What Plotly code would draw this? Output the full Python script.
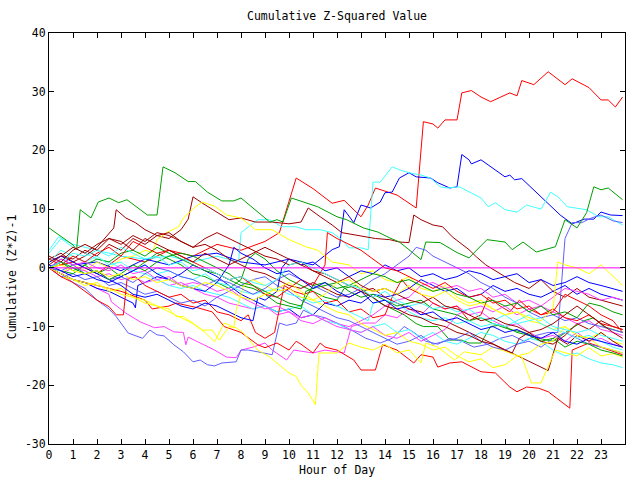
import plotly.graph_objects as go

RED = "#ff0000"; GRN = "#00a000"; BLU = "#0000ff"; MAG = "#ff40ff"
CYN = "#40ffff"; DRD = "#a00000"; YEL = "#ffff00"; SLB = "#6060ff"

title_text = "Cumulative Z-Squared Value"
x_label = "Hour of Day"
y_label = "Cumulative (Z*Z)-1"
x_ticks = list(range(0, 24))
y_ticks = [-30, -20, -10, 0, 10, 20, 30, 40]

# (hour, cumulative value) pairs
red_top = [(0,0),(1,1),(2,-1),(3,2),(4,1),(5,3),(6,2),(7,4),(8,3),(9,4.5),(9.6,6),(10.3,15.3),(11,13.5),(11.8,11),(12.3,11.5),(13,8.7),(13.3,10.7),(13.6,13.6),(14.5,12.4),(15.3,10.2),(15.6,24.9),(16,24.5),(16.2,23.8),(16.5,25.2),(17,25.2),(17.2,29.8),(17.6,30.2),(18,29.1),(18.4,28.3),(19.2,29.8),(19.5,29.3),(19.7,31.9),(20.2,31.2),(20.8,33.4),(21.5,31.2),(21.8,32.2),(22.5,30.7),(23,28.6),(23.3,28.6),(23.6,27.4),(23.9,29.1)]
red_low = [(0,0),(1,-2),(2,-3),(3,-4),(4,-5.5),(4.3,-7),(5,-6.5),(5.3,-6),(6.2,-6.8),(6.8,-7.5),(7.3,-10),(8,-11),(8.7,-13.1),(9,-13.6),(9.5,-12.8),(10,-14),(10.3,-12.5),(10.5,-13),(11,-14.5),(11.3,-12.8),(11.5,-13.5),(12,-14),(12.7,-15.7),(13,-17.4),(13.6,-17.4),(13.9,-13.1),(14.5,-14),(14.9,-15.2),(15.2,-16.2),(15.5,-14.8),(16,-15.2),(16.2,-16.9),(16.7,-16.2),(17.2,-16),(18,-17.7),(18.6,-17.9),(19.2,-20.3),(19.5,-21.1),(19.9,-20.3),(20.4,-20.5),(20.8,-21.1),(21.7,-23.9),(21.8,-14),(22.5,-12.8),(23,-13.5),(23.9,-14.8)]
red_mid1 = [(0,0),(0.5,-1.5),(1,-2.5),(1.5,-4),(2,-5.5),(2.5,-6.6),(2.8,-8),(3.1,-8),(3.25,-2),(3.6,-1.5),(4,-3),(4.5,-4),(5,-5),(5.5,-4.5),(6,-6),(6.5,-5.5),(7,-7.5),(7.5,-8),(8,-9),(8.3,-8),(8.6,-11),(9,-12),(9.4,-11),(9.8,-3),(10.2,-4),(10.6,-4.5),(11,-4),(11.5,-6),(12,-5.5),(12.5,-7.5),(13,-7),(13.5,-8.5),(14,-8),(14.3,-5),(14.7,-2),(15,-3.5),(15.5,-4.5),(16,-6),(16.5,-7),(17,-6.5),(17.5,-9),(18,-8),(18.3,-5),(18.8,-6.5),(19.2,-7.5),(19.6,-5.5),(20,-7),(20.5,-8),(21,-7.5),(21.5,-4.5),(22,-5.5),(22.5,-6.5),(23,-8),(23.5,-9),(23.9,-11)]
red_mid2 = [(0,1.5),(0.5,0.5),(1,2),(1.5,1),(2,2.5),(2.5,3.5),(3,2),(3.5,4.5),(4,3.5),(4.5,2.5),(5,3),(5.5,2),(6,1),(6.5,0),(7,-1),(7.5,-2),(8,-1.5),(8.5,-3),(9,-4.5),(9.5,-5),(10,-3.5),(10.5,-2),(11,-3),(11.5,0.5),(11.6,6),(12,5),(12.5,4),(13,3),(13.5,1.5),(14,0),(14.5,-0.5),(15,-1.5),(15.5,-2.5),(16,-3.5),(16.5,-2.5),(17,-4),(17.5,-5),(18,-4.5),(18.5,-6),(19,-5.5),(19.5,-7),(20,-6.5),(20.5,-8),(21,-7),(21.5,-8.5),(22,-9),(22.5,-8),(23,-9.5),(23.5,-10),(23.9,-10.5)]

green_top = [(0,6.8),(1.0,3.9),(1.15,3.1),(1.3,9.9),(1.75,8.5),(2.05,11.2),(2.5,11.9),(2.9,11.1),(3.25,11.6),(4.1,9),(4.5,9),(4.75,17.2),(5.25,16.2),(5.8,14.7),(6.1,14.7),(6.6,12.9),(7.2,11.4),(7.7,11.4),(8.0,11.9),(8.5,10.2),(9.2,7.8),(9.5,8.2),(9.75,7.8),(10.1,11.9),(10.6,11.2),(11.2,10.4),(12.0,8.7),(12.4,8.2),(13.1,6.8),(13.7,6.1),(14.2,5.1),(14.6,4.4),(15.0,3.1),(15.5,1.4),(15.7,4.4),(16.3,4.3),(17,2.6),(17.5,1.7),(18.25,4.8),(19,4.4),(19.3,3.1),(19.75,4.4),(20.3,2.7),(21.1,3.6),(21.5,8.2),(22,6.8),(22.4,9.4),(22.7,13.8),(23,13.3),(23.3,13.6),(23.9,11.6)]
green_mid1 = [(0,0),(0.5,1),(1,-0.5),(1.5,0.5),(2,-1),(2.5,0),(3,-1.5),(3.5,-0.5),(4,1),(4.5,2.5),(5,1.5),(5.5,0.5),(6,-1),(6.5,-1.5),(7,-2.5),(7.5,-3.5),(8,-2),(8.3,1.5),(8.6,2.5),(9,1.5),(9.5,-0.5),(10,-2),(10.5,-3),(11,-4),(11.5,-5),(12,-5.5),(12.3,-3.5),(12.8,-3),(13.3,-4.5),(13.8,-6),(14.3,-7),(14.8,-8),(15.3,-9.5),(15.6,-10),(16.2,-10),(16.7,-12.3),(17.2,-12.3),(17.5,-12.8),(18,-12.8),(18.4,-10),(18.7,-9.8),(19.2,-10.5),(19.8,-11),(20.4,-12),(21,-12.5),(21.7,-10.5),(22.3,-9),(22.7,-8.5),(23.1,-10),(23.5,-10.5),(23.9,-11)]
green_mid2 = [(0,0),(0.5,-0.5),(1,-1),(1.5,0.5),(2,1.5),(2.5,1),(3,2.5),(3.5,3),(4,2),(4.5,3.5),(5,2.5),(5.5,1.5),(6,0.5),(6.5,-0.5),(7,-1),(7.5,-2),(8,-3),(8.5,-3.5),(9,-4.5),(9.5,-6),(10,-6.5),(10.5,-7),(10.7,-4),(11,-3.5),(11.5,-3),(12,-2.5),(12.5,-4),(13,-5),(13.5,-4.5),(14,-5.5),(14.5,-6.5),(15,-6),(15.5,-5.5),(16,-7),(16.5,-7.5),(17,-8),(17.5,-9),(18,-8.5),(18.5,-9.5),(19,-10),(19.5,-11),(20,-11.5),(20.5,-12.5),(21,-12),(21.5,-13.5),(22,-12.5),(22.5,-13),(23,-14),(23.5,-14.5),(23.9,-15)]
green_mid3 = [(0,0),(0.5,1),(1,0),(1.5,-1),(2,-0.5),(2.5,-2),(3,-1),(3.5,0.5),(4,-0.5),(4.5,1),(5,2),(5.5,2.5),(6,2),(6.5,1),(7,0),(7.5,-1),(8,-2.5),(8.5,-3),(9,-4),(9.5,-5),(10,-6),(10.5,-6.5),(11,-3),(11.5,-2.5),(12,-3.5),(12.5,-3),(13,-2),(13.5,-1),(14,-1.5),(14.5,-2.5),(15,-2),(15.5,-3),(16,-4),(16.5,-3.5),(17,-4.5),(17.5,-5),(18,-6),(18.5,-5.5),(19,-6.5),(19.5,-6),(20,-7.5),(20.5,-6.5),(21,-8),(21.5,-7.5),(22,-8.5),(22.5,-6),(23,-6.5),(23.5,-7.5),(23.9,-8)]

blue_top = [(0,0),(0.5,1.5),(1,0.5),(2,1),(3,-0.5),(4,1.5),(5,0.5),(6,2),(7,2.5),(8,1),(9,0.5),(10,1.5),(11,0.5),(11.8,3.1),(12.1,3.6),(12.3,9.9),(12.7,7.7),(13,10.7),(13.4,10.2),(13.8,11.2),(14,12.8),(14.3,12.9),(14.6,15.3),(15,16.2),(15.3,15.5),(15.9,15.3),(16.2,14.5),(16.7,13.6),(17,13.8),(17.2,19.3),(17.5,18.4),(17.6,17.7),(18,18.4),(18.4,17.2),(19,15.5),(19.2,15.8),(19.4,15),(19.7,15.2),(20.5,12.1),(21.3,9),(21.8,7.5),(22.3,8.3),(22.7,8.3),(23,9.5),(23.4,9),(23.9,8.9)]
blue_mid1 = [(0,0),(0.5,-1),(1,-2),(1.5,-2.5),(2,-3.5),(2.5,-4),(3,-5),(3.5,-6),(3.6,-6.8),(3.7,-3),(4,-2.5),(4.5,-1.5),(5,-2),(5.5,-1),(6,0.5),(6.5,-0.5),(7,-1.5),(7.5,-3),(8,-4.5),(8.5,-5.5),(9,-6.5),(9.5,-7.5),(10,-7),(10.5,-8.5),(11,-8),(11.5,-6),(12,-6.5),(12.5,-5.5),(13,-6),(13.5,-4.5),(14,-5),(14.5,-4.5),(15,-3.5),(15.5,-2),(16,-3),(16.5,-4),(17,-3.5),(17.5,-5),(18,-4.5),(18.5,-3),(19,-4),(19.5,-3.5),(20,-4.5),(20.5,-5),(21,-4),(21.5,-3),(22,-4.5),(22.5,-3.5),(23,-4.5),(23.5,-5),(23.9,-5.5)]
blue_mid2 = [(0,1),(0.5,2),(1,1),(1.5,0),(2,-1),(2.5,-2),(3,-3),(3.5,-4.5),(4,-5),(4.5,-4.5),(5,-5.5),(5.5,-6.5),(6,-7),(6.5,-6),(7,-6.5),(7.5,-7.5),(8,-8.5),(8.5,-9),(8.7,-5),(9,-5.5),(9.5,-4),(9.7,0),(10,1.5),(10.5,0.5),(11,1),(11.5,-0.5),(12,0),(12.5,-1.5),(13,-0.5),(13.5,-1),(14,0.5),(14.5,-0.5),(15,0),(15.5,-1.5),(16,-1),(16.5,-2),(17,-1.5),(17.5,-0.5),(18,-1),(18.5,-2),(19,-1.5),(19.5,-1),(20,-2.5),(20.5,-2),(21,-3),(21.5,-2.5),(22,-1.5),(22.5,-2.5),(23,-3),(23.5,-3.5),(23.9,-4)]
blue_mid3 = [(0,0.5),(0.5,-0.5),(1,-1.5),(1.5,-1),(2,-2),(2.5,-2.5),(3,-1.5),(3.5,-0.5),(4,0.5),(4.5,-1),(5,-2),(5.5,-3),(6,-3.5),(6.5,-4),(7,-2.5),(7.5,0.5),(7.7,3.5),(8,2.5),(8.5,1.5),(9,0),(9.5,-1),(10,-0.5),(10.5,-2),(11,-3.5),(11.5,-2.5),(12,-4),(12.5,-5),(13,-4),(13.5,-6),(14,-5.5),(14.5,-7),(15,-6.5),(15.5,-8),(16,-7.5),(16.5,-9),(17,-8.5),(17.5,-9.5),(18,-10.5),(18.5,-10),(19,-11),(19.5,-10.5),(20,-11.5),(20.5,-12),(21,-11),(21.5,-12.5),(22,-13),(22.5,-12),(23,-12.5),(23.5,-13),(23.9,-13.5)]

magenta_zero = [(0,0),(23.9,0)]
magenta_low = [(0,0),(0.5,-1),(1,-2),(1.5,-2.5),(2,-3.5),(2.5,-4.5),(2.6,-5.8),(3.2,-7.7),(3.8,-9.2),(4.4,-10.2),(4.8,-10),(5.2,-10.9),(5.6,-11),(5.7,-13.1),(5.8,-11.8),(6.3,-12.8),(6.9,-14),(7.4,-15.2),(7.8,-15.3),(8,-14),(8.5,-13.5),(9,-12.8),(9.3,-14),(9.9,-15.7),(10.2,-14),(11,-14.5),(11.5,-14),(12.3,-14.5),(12.6,-10),(13.1,-9.4),(13.6,-9.4),(14,-8),(14.5,-8.5),(15,-7),(15.5,-8),(16,-6),(16.5,-7),(17,-6.5),(17.5,-8),(18,-7.5),(18.5,-9),(19,-10),(19.5,-9.5),(20,-11),(20.5,-12),(21,-11.5),(21.5,-12.5),(22,-11),(22.5,-12.5),(23,-12),(23.5,-13),(23.9,-13.5)]
magenta_mid1 = [(0,0),(0.5,-1),(1,0),(1.5,-0.5),(2,-1.5),(2.5,-1),(3,-2),(3.5,-1.5),(4,-2.5),(4.5,-2),(5,-3),(5.5,-2.5),(6,-3.5),(6.5,-4.5),(7,-5),(7.5,-6),(8,-6.5),(8.5,-7),(9,-6.5),(9.5,-8),(10,-7.5),(10.5,-9),(11,-9.5),(11.5,-8.5),(12,-9.5),(12.5,-10),(13,-9),(13.5,-8),(14,-6.5),(14.5,-5.5),(15,-5),(15.5,-3),(16,-2.5),(16.5,-3.5),(17,-3),(17.5,-4),(18,-3.5),(18.5,-5),(19,-4.5),(19.5,-6),(20,-5.5),(20.5,-6.5),(21,-5),(21.5,-3.5),(22,-4),(22.5,-4.5),(23,-5.5),(23.5,-5),(23.9,-5.5)]
magenta_mid2 = [(0,0),(0.5,1.5),(1,0.5),(1.5,1),(2,0),(2.5,-0.5),(3,0.5),(3.5,-1),(4,-0.5),(4.5,-2),(5,-1.5),(5.5,-3),(6,-2.5),(6.5,-3),(7,-4),(7.5,-3.5),(8,-5),(8.5,-6),(9,-7),(9.5,-6.5),(10,-7.5),(10.5,-8.5),(11,-8),(11.5,-9),(12,-10),(12.5,-10.5),(13,-11),(13.5,-10),(14,-11.5),(14.5,-12),(15,-11),(15.5,-12.5),(16,-11.5),(16.5,-10.5),(17,-8),(17.5,-7),(18,-6.5),(18.5,-7.5),(19,-6.5),(19.5,-8),(20,-7),(20.5,-6.5),(21,-7.5),(21.5,-8.5),(22,-9.5),(22.5,-9),(23,-10.5),(23.5,-11),(23.9,-11.5)]

cyan_top = [(0,3),(0.4,5.3),(1,4),(2,3),(3,2),(4,1.5),(5,2),(6,1),(7,2),(7.9,1),(8.0,6),(8.7,8.2),(9.2,8.2),(9.7,7),(10.3,7),(10.7,6.5),(11.3,6.5),(11.8,6),(12.2,4.8),(12.5,3.4),(13,3.4),(13.3,3.1),(13.5,14.6),(13.8,14.6),(14.3,17.2),(14.6,16.7),(15,16.2),(15.5,15.8),(15.9,15.3),(16.3,13.8),(16.6,13.6),(17.1,13.8),(17.6,12.8),(18,11.9),(18.3,10.4),(18.6,11.1),(19,9.9),(19.5,9.5),(19.9,10.7),(20.5,10),(20.9,12.9),(21.2,12.1),(21.6,10.4),(22.4,9.9),(22.9,8.7),(23.3,8.7),(23.9,7.3)]
cyan_mid1 = [(0,2.5),(0.5,5),(1,3.5),(1.5,2.5),(2,1.5),(2.5,1),(3,0),(3.5,-0.5),(4,-1),(4.5,-2),(5,-3),(5.5,-3.5),(6,-3),(6.5,-4),(7,-4.5),(7.5,-5),(8,-6),(8.5,-7),(9,-6.5),(9.5,-7.5),(10,-7),(10.5,-6.5),(11,-8),(11.5,-9),(12,-9.5),(12.5,-10.5),(13,-11),(13.5,-10),(14,-9.5),(14.5,-11),(15,-10.5),(15.5,-12),(16,-11),(16.5,-12.5),(17,-13),(17.5,-12),(18,-11),(18.5,-11.5),(19,-12.5),(19.5,-13),(20,-12),(20.5,-12.5),(21,-14),(21.5,-15),(22,-14.5),(22.5,-15.5),(23,-16.2),(23.5,-16.5),(23.9,-17)]
cyan_mid2 = [(0,1),(0.5,3),(1,2),(1.5,1),(2,2),(2.5,0.5),(3,1),(3.5,-0.5),(4,0.5),(4.5,-1),(5,-0.5),(5.5,-1.5),(6,-2),(6.5,-1),(7,-2.5),(7.5,-3),(8,-4),(8.5,-4.5),(9,-4),(9.5,-3.5),(10,-4.5),(10.5,-5),(11,-6),(11.5,-5.5),(12,-6.5),(12.5,-7.5),(13,-8.5),(13.3,-9),(13.5,-6),(14,-5.5),(14.5,-6),(15,-7.5),(15.5,-8.5),(16,-9),(16.5,-8.5),(17,-9.5),(17.5,-9),(18,-10),(18.5,-9.5),(19,-10),(19.5,-9),(20,-8),(20.5,-9.5),(21,-10.5),(21.5,-11),(22,-12),(22.5,-11.5),(23,-12.5),(23.5,-13.5),(23.9,-14)]
cyan_mid3 = [(0,0),(0.5,1),(1,2.5),(1.5,2),(2,3),(2.5,2),(3,3.5),(3.5,2.5),(4,1.5),(4.5,2),(5,0.5),(5.5,1),(6,-0.5),(6.5,0),(7,-1),(7.5,-2),(8,-1.5),(8.5,-2.5),(9,-3),(9.5,-2),(10,0.5),(10.5,1),(11,0),(11.5,-1),(12,-2),(12.5,-3),(13,-3.5),(13.5,-5),(14,-4),(14.5,-5.5),(15,-6.5),(15.5,-6),(16,-7),(16.5,-6.5),(17,-7.5),(17.5,-7),(18,-8.5),(18.5,-9),(19,-8),(19.5,-9.5),(20,-9),(20.5,-8.5),(21,-10),(21.5,-10.5),(22,-11),(22.5,-10.5),(23,-11.5),(23.5,-12),(23.9,-12.5)]

darkred_top = [(0,1),(0.5,2),(1,1.5),(1.5,3),(2,2),(2.5,4),(3,3),(3.5,5),(4,4),(4.5,5.5),(5,5),(5.5,6.5),(5.8,8.3),(6.0,12.1),(6.4,11),(7,9.4),(7.5,8.2),(8,8.5),(8.6,7.8),(9.3,7.8),(10,7.5),(10.5,7.8),(10.8,10.2),(11.3,8.7),(11.8,7.3),(12.2,6),(13,5.5),(13.6,5),(14.2,4.8),(14.6,4.4),(15,4.3),(15.2,9),(15.5,8.2),(16,7.3),(16.4,7),(16.8,5.3),(17.5,3.1),(17.8,1.9),(18.2,0.5),(18.8,-1),(19.4,-2.5),(20,-3.5),(20.5,-2),(21,-4),(21.5,-5),(22,-3.5),(22.5,-5),(23,-5.5),(23.5,-6),(23.9,-6.5)]
darkred_mid1 = [(0,1.5),(0.5,2.5),(1,1),(1.5,2),(2,3.5),(2.5,6),(2.7,6.8),(2.8,9.9),(3.2,8.5),(3.6,7.7),(4,6.5),(4.5,5.5),(5,6),(5.5,4.5),(6,3.5),(6.5,4),(7,3),(7.5,1.5),(8,0.5),(8.5,-0.5),(9,-1),(9.5,-2),(10,-3),(10.5,-3.5),(11,-2.5),(11.5,-3.5),(12,-4.5),(12.5,-5),(13,-4),(13.5,-3.5),(14,-5),(14.5,-6),(15,-7),(15.5,-7.5),(16,-8.5),(16.5,-9),(17,-10),(17.5,-11),(18,-12),(18.5,-13),(19,-14),(19.5,-15),(20,-16),(20.5,-17),(20.8,-17.5),(21.2,-12),(21.6,-13),(22,-11.5),(22.5,-12.5),(23,-11),(23.5,-12.5),(23.9,-13.5)]
darkred_mid2 = [(0,0.5),(0.5,2),(1,3.5),(1.5,2.5),(2,4),(2.5,5),(3,4),(3.5,5.5),(4,4.5),(4.5,6),(5,5.5),(5.5,4.5),(6,3.5),(6.5,5),(7,6),(7.5,5),(8,4),(8.5,3),(9,2),(9.5,1.5),(10,0.5),(10.5,1),(11,-0.5),(11.5,-1),(12,-2),(12.5,-3),(13,-4),(13.5,-5),(14,-6.5),(14.5,-7),(15,-8),(15.5,-8.5),(16,-9.5),(16.5,-10),(17,-11),(17.5,-11.5),(18,-12.5),(18.5,-13),(19,-14),(19.3,-14.5),(19.6,-12),(20,-11),(20.5,-12.5),(21,-13),(21.5,-11.5),(22,-9.5),(22.5,-10.5),(23,-9),(23.5,-10),(23.9,-10.5)]
darkred_mid3 = [(0,2),(0.5,1),(1,3),(1.5,4),(2,3),(2.5,5),(3,4.5),(3.5,3),(4,5),(4.5,4),(5,3),(5.5,2),(6,1),(6.5,2.5),(7,1.5),(7.5,0.5),(8,1.5),(8.5,2.5),(9,3.5),(9.5,2.5),(10,1.5),(10.5,0.5),(11,-0.5),(11.5,-1.5),(12,-2.5),(12.5,-1.5),(13,-3),(13.5,-4),(14,-3.5),(14.5,-4.5),(15,-5.5),(15.5,-6),(16,-5),(16.5,-6.5),(17,-7),(17.5,-8),(18,-9),(18.5,-8.5),(19,-9.5),(19.5,-10),(20,-11),(20.5,-10.5),(21,-9.5),(21.5,-8),(22,-6.5),(22.5,-8),(23,-9.5),(23.5,-11),(23.9,-12)]

yellow_top = [(0,0),(0.5,-1),(1,0.5),(1.5,-0.5),(2,1),(2.5,0),(3,1.5),(3.5,2),(4,3),(4.3,2.6),(4.5,4.8),(4.9,6),(5.4,7),(5.6,8.5),(6.1,10.4),(6.4,11.2),(6.9,10.5),(7.4,9),(8,8.5),(8.6,6.5),(9.3,6.5),(10,4.8),(10.7,3.6),(11.2,3),(11.8,1),(12.5,0.5),(13,-1),(13.5,-0.5),(14,-2),(14.5,-2.5),(15,-1.5),(15.5,-3.5),(16,-4),(16.5,-3),(17,-5),(17.5,-6),(18,-5.5),(18.5,-7),(19,-8),(19.5,-7.5),(20,-9),(20.5,-9.5),(21,-10.5),(21.5,-10),(22,-11.5),(22.5,-12),(23,-11),(23.5,-12.5),(23.9,-13)]
yellow_low = [(0,0),(0.5,-1.5),(1,-2),(1.5,-3),(2,-2.5),(2.5,-4),(3,-3.5),(3.5,-5),(4,-5.5),(4.5,-6.5),(5,-7),(5.3,-8.3),(5.6,-8.3),(6,-9.4),(6.4,-10.6),(6.8,-10.6),(7.1,-12.3),(7.5,-10),(7.8,-10.2),(8.1,-11.1),(8.7,-14),(9.2,-15.2),(10,-17.9),(10.3,-18.5),(10.5,-20),(10.8,-21.3),(11.1,-23.3),(11.25,-14.5),(12,-14.5),(12.5,-12.8),(13,-13.5),(13.5,-14),(14,-13),(14.5,-14.5),(15,-14),(15.5,-16.2),(15.7,-12.8),(16.2,-13.5),(16.9,-15.7),(17.3,-14.3),(18,-14.8),(18.5,-13.5),(19.2,-14.5),(19.7,-15.2),(20.1,-19.6),(20.5,-19.6),(21.1,-14),(21.5,-14.5),(22,-15),(22.5,-13.6),(23,-15),(23.5,-14.6),(23.9,-15.2)]
yellow_mid1 = [(0,0),(0.5,-1),(1,-2),(1.5,-2.5),(2,-3),(2.5,-3.5),(3,-4.5),(3.5,-5),(4,-6),(4.5,-6.5),(5,-7.5),(5.5,-8.5),(6,-9.5),(6.5,-11),(6.9,-12.6),(7.3,-9.4),(7.5,-9.7),(7.7,-10.2),(7.8,-7.2),(8.1,-3.2),(8.5,-2),(9,-3),(9.5,-4),(10,-3.5),(10.5,-5),(11,-5.5),(11.5,-6.5),(12,-7.5),(12.5,-8),(13,-9.5),(13.5,-10.5),(14,-11.5),(14.5,-11),(15,-12.5),(15.5,-13),(16,-14),(16.5,-13.5),(17,-15),(17.5,-16),(18,-15.5),(18.5,-17),(19,-16.5),(19.5,-15),(20,-14.5),(20.5,-13),(21,-12.5),(21.5,-10),(22,-11.5),(22.5,-12),(23,-13.5),(23.5,-14),(23.9,-14.5)]
yellow_mid2 = [(0,0),(0.5,0.5),(1,-0.5),(1.5,-1),(2,-0.5),(2.5,-1.5),(3,-1),(3.5,-2),(4,-1.5),(4.5,-2.5),(5,-2),(5.5,-3),(6,-3.5),(6.5,-2.5),(7,-3),(7.5,-4),(8,-5),(8.5,-5.5),(9,-4.5),(9.5,-3.5),(10,-2.5),(10.5,-4),(11,-5.5),(11.5,-4.5),(12,-2.5),(12.5,-2),(13,-3.5),(13.5,-4),(14,-3.5),(14.5,-4.5),(15,-3),(15.5,-4.5),(16,-5),(16.5,-4),(17,-5.5),(17.5,-6.5),(18,-6),(18.5,-7),(19,-8),(19.5,-7.5),(20,-8.5),(20.5,-9),(21,-7),(21.2,1),(21.5,0.5),(22,0),(22.5,-1),(23,0.5),(23.5,-1.5),(23.9,-3)]

slate_low = [(0,0),(0.5,-1),(1,-2.5),(1.5,-3.5),(2,-5.5),(2.5,-7),(2.8,-8.3),(3.3,-11.1),(3.9,-12),(4.2,-10.6),(4.5,-11.4),(4.8,-11.6),(5.2,-13.1),(5.6,-14.3),(6.0,-16),(6.3,-15.7),(6.6,-16.5),(6.9,-16.7),(7.2,-16.2),(7.8,-16),(8.0,-14),(8.3,-14),(8.7,-14.3),(9.3,-14.8),(9.6,-9.4),(9.9,-9.8),(10.3,-9.4),(10.6,-7.2),(11,-8),(11.5,-8.5),(12,-9.4),(12.6,-10.6),(13.2,-12),(13.8,-12.8),(14.3,-12),(14.8,-10),(15.2,-11),(15.7,-12.5),(16.2,-13),(16.7,-12),(17.2,-12.5),(17.7,-13.5),(18.3,-13),(18.8,-12),(19.3,-11.5),(19.8,-12.5),(20.3,-11.5),(20.8,-11),(21.2,-11),(21.5,5),(21.8,7.7),(22.2,7.7),(22.6,8.5),(23,9),(23.5,8),(23.9,7.7)]
slate_mid1 = [(0,0),(0.5,-1.5),(1,-1),(1.5,-2),(2,-1.5),(2.5,-3),(3,-2.5),(3.5,-3.5),(4,-4.5),(4.5,-4),(5,-5),(5.5,-6),(6,-5.5),(6.5,-6.5),(7,-5),(7.5,-4),(8,-3),(8.5,-2),(9,-1.5),(9.5,-3),(10,-4),(10.5,-5.5),(11,-6.5),(11.5,-7.5),(12,-8.5),(12.5,-9),(13,-10),(13.5,-11),(14,-12),(14.5,-13),(15,-12.5),(15.5,-11.5),(16,-13),(16.5,-12.5),(17,-12),(17.5,-11),(18,-12.5),(18.5,-13.5),(19,-14),(19.5,-13),(20,-12.5),(20.5,-13.5),(21,-12),(21.5,-11),(22,-12),(22.5,-13),(23,-13.5),(23.5,-14),(23.9,-14.5)]
slate_mid2 = [(0,0),(0.5,-0.5),(1,0.5),(1.5,-1),(2,-0.5),(2.5,-2),(3,-1.5),(3.5,-2.5),(4,-1),(4.5,0),(5,-0.5),(5.5,-1.5),(6,-2),(6.5,-3),(7,-2),(7.5,-2.5),(8,-3.5),(8.5,-4.5),(9,-3.5),(9.5,-2),(10,-1),(10.5,-2),(11,-3),(11.5,-4),(12,-5),(12.5,-4.5),(13,-3.5),(13.5,-2),(14,-1),(14.5,0.5),(15,2),(15.3,3.5),(15.7,3),(16,2),(16.5,1),(17,0),(17.5,-1),(18,-2.5),(18.5,-3.5),(19,-5),(19.5,-6),(20,-7.5),(20.5,-8.5),(21,-8),(21.5,-9),(22,-8.5),(22.5,-9.5),(23,-10),(23.5,-10.5),(23.9,-11)]

SERIES = [
    (red_top, RED), (green_mid1, GRN), (blue_top, BLU), (magenta_low, MAG),
    (cyan_top, CYN), (darkred_top, DRD), (yellow_top, YEL), (slate_low, SLB),
    (red_low, RED), (green_top, GRN), (blue_mid1, BLU), (magenta_mid1, MAG),
    (cyan_mid1, CYN), (darkred_mid1, DRD), (yellow_low, YEL), (slate_mid1, SLB),
    (red_mid1, RED), (green_mid2, GRN), (blue_mid2, BLU), (magenta_mid2, MAG),
    (cyan_mid2, CYN), (darkred_mid2, DRD), (yellow_mid1, YEL), (slate_mid2, SLB),
    (red_mid2, RED), (green_mid3, GRN), (blue_mid3, BLU), (cyan_mid3, CYN),
    (darkred_mid3, DRD), (yellow_mid2, YEL), (magenta_zero, "#ff00ff"),
]

fig = go.Figure()
for pts, col in SERIES:
    fig.add_trace(go.Scatter(x=[p[0] for p in pts], y=[p[1] for p in pts],
                             mode="lines", line=dict(color=col, width=1),
                             showlegend=False, hoverinfo="skip"))

FONT = dict(family="DejaVu Sans Mono", size=11.5, color="black")
axis_common = dict(showline=True, linecolor="black", linewidth=1, mirror="allticks",
                   ticks="inside", ticklen=5, tickcolor="black", showgrid=False,
                   zeroline=False, tickfont=FONT)
fig.update_xaxes(range=[0, 24], tickvals=x_ticks, ticktext=[str(t) for t in x_ticks], **axis_common)
fig.update_yaxes(range=[-30, 40], tickvals=y_ticks, ticktext=[str(t) for t in y_ticks], **axis_common)

fig.update_layout(
    width=640, height=480, margin=dict(l=49, r=15, t=33, b=36),
    paper_bgcolor="white", plot_bgcolor="white", font=FONT,
    annotations=[
        dict(text=title_text, x=0.5, y=1.041, xref="paper", yref="paper",
             showarrow=False, xanchor="center", yanchor="middle", font=FONT),
        dict(text=x_label, x=0.5, y=-0.063, xref="paper", yref="paper",
             showarrow=False, xanchor="center", yanchor="middle", font=FONT),
        dict(text=y_label, x=-0.064, y=0.406, xref="paper", yref="paper", textangle=-90,
             showarrow=False, xanchor="center", yanchor="middle", font=FONT),
    ],
)
fig.write_html("out.html")
